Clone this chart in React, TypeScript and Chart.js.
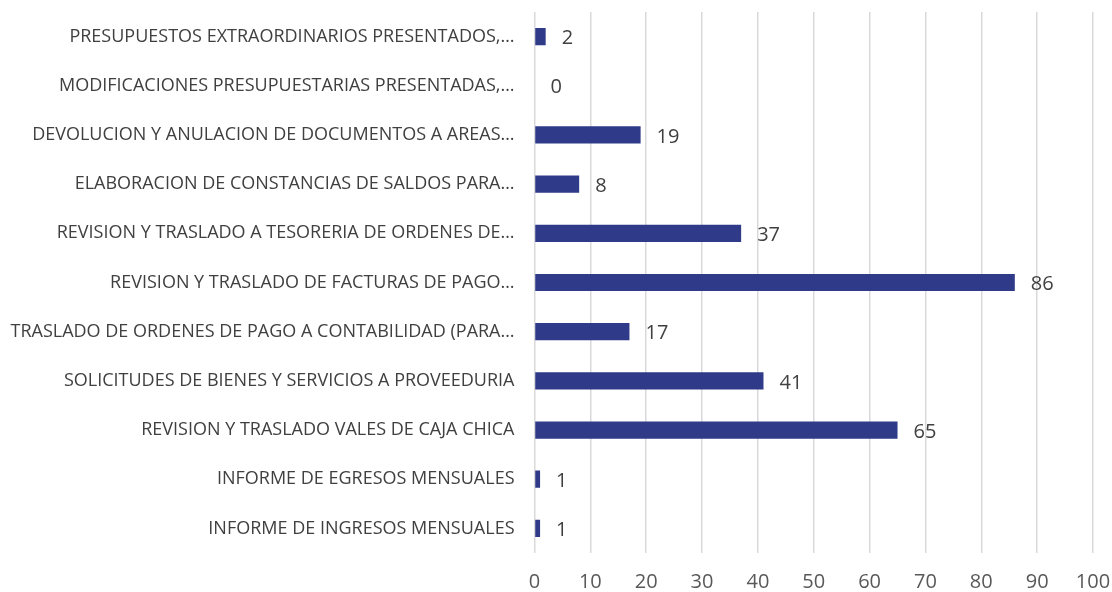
import React, { useEffect, useRef } from "react";
import { Chart, registerables } from "chart.js";

Chart.register(...registerables);

const categories: string[] = [
  "PRESUPUESTOS EXTRAORDINARIOS PRESENTADOS,…",
  "MODIFICACIONES PRESUPUESTARIAS PRESENTADAS,…",
  "DEVOLUCION Y ANULACION DE DOCUMENTOS A AREAS…",
  "ELABORACION DE CONSTANCIAS DE SALDOS PARA…",
  "REVISION Y TRASLADO A TESORERIA DE ORDENES DE…",
  "REVISION Y TRASLADO DE FACTURAS DE PAGO…",
  "TRASLADO DE ORDENES DE PAGO A CONTABILIDAD (PARA…",
  "SOLICITUDES DE BIENES Y SERVICIOS A PROVEEDURIA",
  "REVISION Y TRASLADO VALES DE CAJA CHICA",
  "INFORME DE EGRESOS MENSUALES",
  "INFORME DE INGRESOS MENSUALES",
];

const values: number[] = [2, 0, 19, 8, 37, 86, 17, 41, 65, 1, 1];

const xMin = 0;
const xMax = 100;
const xStep = 10;

const FONT = "'Open Sans', 'Liberation Sans', sans-serif";

const valueLabels = {
  id: "valueLabels",
  afterDatasetsDraw(chart: any) {
    const { ctx } = chart;
    const meta = chart.getDatasetMeta(0);
    ctx.save();
    ctx.font = `20px ${FONT}`;
    ctx.fillStyle = "#404040";
    ctx.textAlign = "left";
    ctx.textBaseline = "middle";
    meta.data.forEach((bar: any, i: number) => {
      ctx.fillText(String(values[i]), bar.x + 16, bar.y + 2);
    });
    ctx.restore();
  },
};

export default function App() {
  const ref = useRef<HTMLCanvasElement | null>(null);

  useEffect(() => {
    document.body.style.margin = "0";
    const canvas = ref.current;
    if (!canvas) return;
    const chart = new Chart(canvas, {
      type: "bar",
      data: {
        labels: categories,
        datasets: [
          {
            data: values,
            backgroundColor: "#2F3A88",
            borderWidth: 0,
            barPercentage: 0.35,
            categoryPercentage: 1,
          },
        ],
      },
      options: {
        indexAxis: "y",
        animation: false,
        responsive: false,
        maintainAspectRatio: false,
        layout: { padding: { top: 12, right: 19, left: 0, bottom: 0 } },
        plugins: {
          legend: { display: false },
          tooltip: { enabled: false },
        },
        scales: {
          x: {
            min: xMin,
            max: xMax,
            ticks: {
              stepSize: xStep,
              color: "#595959",
              font: { family: FONT, size: 20 },
              padding: 17,
            },
            grid: { color: "#D9D9D9", lineWidth: 1.5, drawTicks: false },
            border: { display: false },
            afterFit(scale: any) {
              scale.height = 39;
              scale.paddingLeft = 0;
              scale.paddingRight = 0;
            },
          },
          y: {
            ticks: {
              color: "#404040",
              font: { family: FONT, size: 18 },
              padding: 20,
              autoSkip: false,
            },
            grid: { display: false, drawTicks: false },
            border: { display: false },
            afterFit(scale: any) {
              scale.width = 534.5;
              scale.paddingTop = 0;
              scale.paddingBottom = 0;
            },
          },
        },
      },
      plugins: [valueLabels],
    });
    return () => chart.destroy();
  }, []);

  return (
    <div style={{ position: "fixed", left: 0, top: 0, width: 1112, height: 592 }}>
      <canvas ref={ref} width={1112} height={592} style={{ display: "block" }} />
    </div>
  );
}
